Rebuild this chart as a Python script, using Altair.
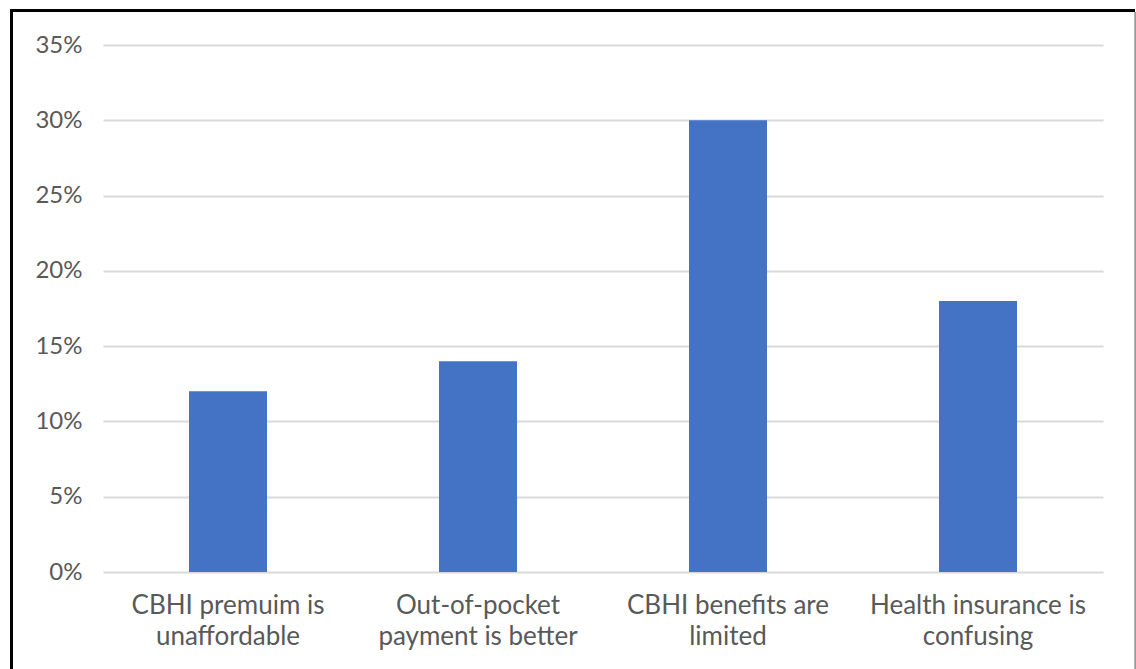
import altair as alt
import pandas as pd

categories = [
    "CBHI premuim is unaffordable",
    "Out-of-pocket payment is better",
    "CBHI benefits are limited",
    "Health insurance is confusing",
]
label_lines = [
    ["CBHI premuim is", "unaffordable"],
    ["Out-of-pocket", "payment is better"],
    ["CBHI benefits are", "limited"],
    ["Health insurance is", "confusing"],
]
values = [0.12, 0.14, 0.30, 0.18]
y_ticks = [0, 0.05, 0.10, 0.15, 0.20, 0.25, 0.30, 0.35]

df = pd.DataFrame({"cat": categories, "val": values})

label_expr = " : ".join(
    f"datum.value == '{c}' ? {l!r}" for c, l in zip(categories, label_lines)
) + " : datum.value"

FONT = "Lato"
GRAY = "#595959"

bars = alt.Chart(df).mark_bar(color="#4472C4").encode(
    x=alt.X(
        "cat:N",
        sort=categories,
        scale=alt.Scale(paddingInner=0.688, paddingOuter=0.344),
        axis=alt.Axis(
            title=None,
            labelAngle=0,
            labelExpr=label_expr,
            labelFont=FONT,
            labelFontSize=26,
            labelColor=GRAY,
            labelLineHeight=31,
            labelPadding=20,
            ticks=False,
            domain=False,
            labelLimit=300,
        ),
    ),
    y=alt.Y(
        "val:Q",
        scale=alt.Scale(domain=[0, 0.35], nice=False),
        axis=alt.Axis(
            title=None,
            values=y_ticks,
            format=".0%",
            labelFont=FONT,
            labelFontSize=24,
            labelColor=GRAY,
            labelPadding=21,
            ticks=False,
            domain=False,
            grid=True,
            gridColor="#d9d9d9",
            gridWidth=2,
        ),
    ),
)

frame_top = alt.Chart(df).mark_rule(color="black", strokeWidth=3).encode(
    x=alt.value(-93), x2=alt.value(1032), y=alt.value(-34.5)
)
frame_left = alt.Chart(df).mark_rule(color="black", strokeWidth=3).encode(
    x=alt.value(-91.5), y=alt.value(-36), y2=alt.value(700)
)
frame_right = alt.Chart(df).mark_rule(color="#999999", strokeWidth=1.5).encode(
    x=alt.value(1032.5), y=alt.value(-33), y2=alt.value(700)
)

chart = alt.layer(bars, frame_top, frame_left, frame_right).properties(
    width=1000,
    height=527,
    autosize=alt.AutoSizeParams(type="none"),
    padding={"left": 103, "top": 45, "right": 33, "bottom": 97},
).configure(background="white", view=alt.ViewConfig(stroke=None))

chart.save("out.html", embed_options={"renderer": "svg", "actions": False})
